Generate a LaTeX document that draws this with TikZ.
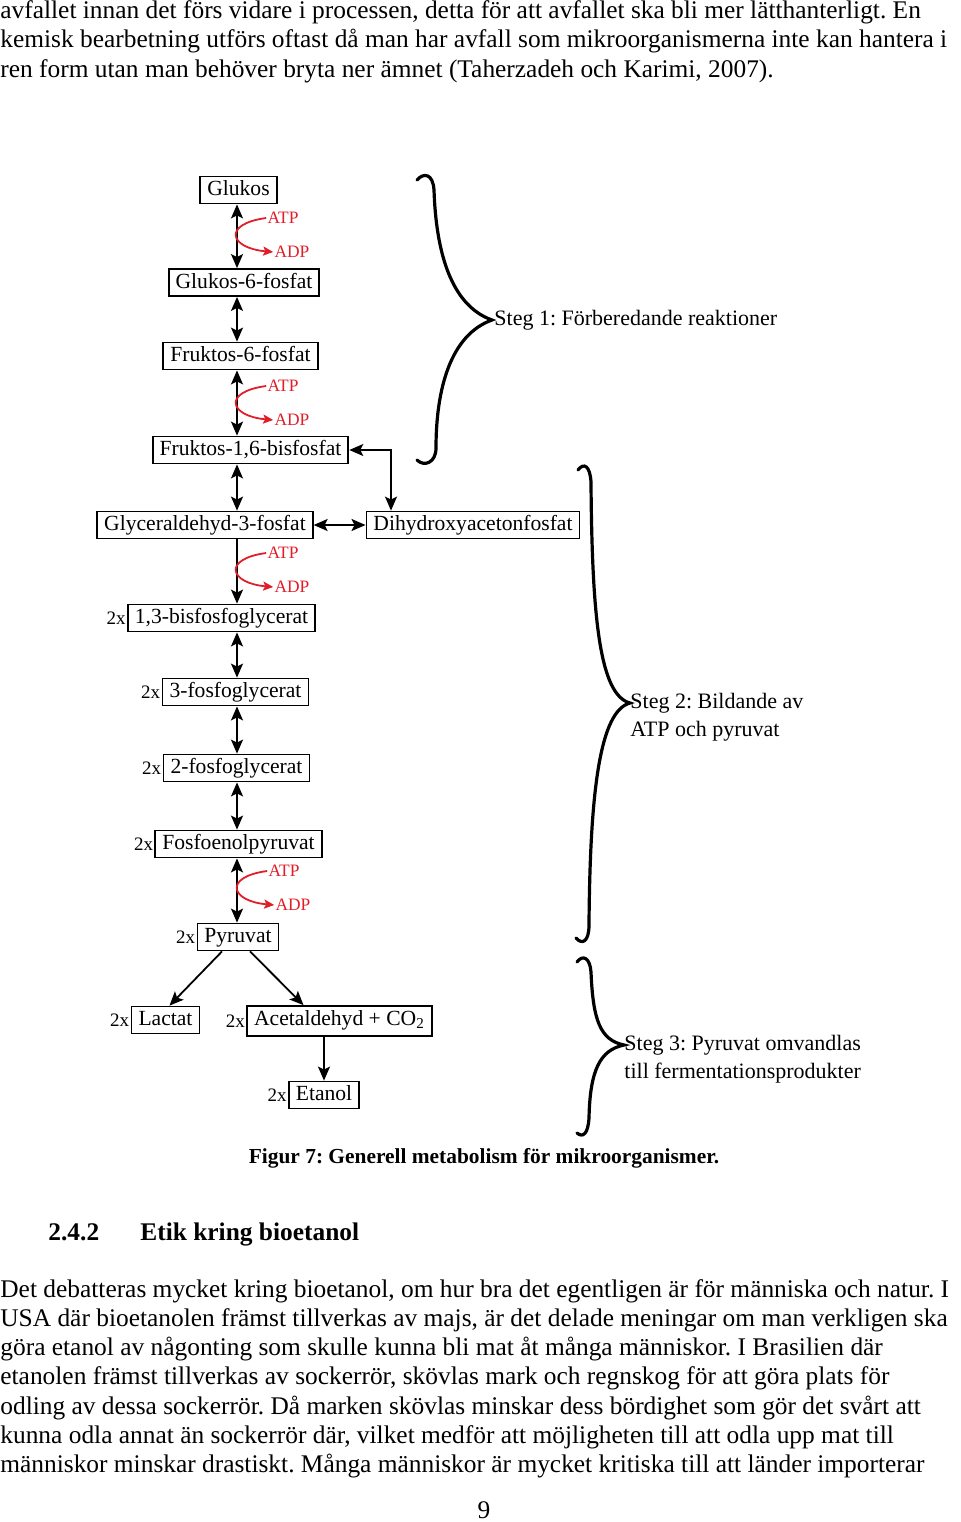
\documentclass[tikz,border=0pt]{standalone}
\usepackage{fontspec}
\setmainfont{Liberation Serif}
\usetikzlibrary{arrows.meta,positioning}
\definecolor{atpred}{RGB}{225,30,40}
\frenchspacing

\tikzset{
	box/.style={shape=rectangle,draw=black,line width=0.9pt,inner xsep=3.5pt,inner ysep=1.5pt,text height=8pt,text depth=2.5pt,font=\fontsize{10.8}{12}\selectfont},
	cnt/.style={inner sep=0.5pt,font=\fontsize{9.5}{11}\selectfont},
	atp/.style={inner sep=0.5pt,text=atpred,font=\fontsize{8.7}{10}\selectfont},
	dbl/.style={{Stealth[length=7pt,width=6pt,inset=1.5pt]}-{Stealth[length=7pt,width=6pt,inset=1.5pt]},line width=0.9pt},
	fwd/.style={-{Stealth[length=7pt,width=6pt,inset=1.5pt]},line width=0.9pt},
	redarr/.style={-{Stealth[length=5pt,width=4.5pt,inset=1pt]},line width=0.9pt,draw=atpred},
	brace/.style={line width=1.6pt,line cap=round},
	steg/.style={anchor=west,inner sep=0pt,align=left,font=\fontsize{11}{14}\selectfont},
	body/.style={anchor=base west,inner sep=0pt,font=\fontsize{12.7}{14.65}\selectfont}
}

\begin{document}
\begin{tikzpicture}[x=0.5pt,y=-0.5pt]

	\fill[white] (0,0) rectangle (960,1522);
	\useasboundingbox (0,0) rectangle (960,1522);

	% text above the figure
	\node[body] (top1) at (0,18.5) {avfallet innan det förs vidare i processen, detta för att avfallet ska bli mer lätthanterligt. En};
	\node[body] (top2) at (0,47.8) {kemisk bearbetning utförs oftast då man har avfall som mikroorganismerna inte kan hantera i};
	\node[body] (top3) at (0,77.1) {ren form utan man behöver bryta ner ämnet (Taherzadeh och Karimi, 2007).};

	% the boxes
	\node[box] (glukos) at (238.5,190)  {Glukos};
	\node[box] (g6p)    at (244,282.5)  {Glukos-6-fosfat};
	\node[box] (f6p)    at (240.5,356)  {Fruktos-6-fosfat};
	\node[box] (f16bp)  at (250.5,450)  {Fruktos-1,6-bisfosfat};
	\node[box] (g3p)    at (205,525)    {Glyceraldehyd-3-fosfat};
	\node[box] (dhap)   at (473,525)    {Dihydroxyacetonfosfat};
	\node[box] (bpg)    at (221.5,618)  {1,3-bisfosfoglycerat};
	\node[box] (pga3)   at (235.5,692)  {3-fosfoglycerat};
	\node[box] (pga2)   at (236.5,768)  {2-fosfoglycerat};
	\node[box] (pep)    at (238.5,844)  {Fosfoenolpyruvat};
	\node[box] (pyr)    at (238,937)    {Pyruvat};
	\node[box] (lactat) at (165.5,1020) {Lactat};
	\node[box,text depth=4pt] (acet) at (339.5,1021) {Acetaldehyd + CO\textsubscript{2}};
	\node[box] (etanol) at (324,1095)   {Etanol};

	\node[cnt,left=0pt of bpg]    (bpgn)    {2x};
	\node[cnt,left=0pt of pga3]   (pga3n)   {2x};
	\node[cnt,left=0pt of pga2]   (pga2n)   {2x};
	\node[cnt,left=0pt of pep]    (pepn)    {2x};
	\node[cnt,left=0pt of pyr]    (pyrn)    {2x};
	\node[cnt,left=0pt of lactat] (lactatn) {2x};
	\node[cnt,left=0pt of acet]   (acetn)   {2x};
	\node[cnt,left=0pt of etanol] (etanoln) {2x};

	\coordinate (col)  at (237,0);
	\coordinate (bend) at (391,450);

	% arrows
	\path[dbl] (glukos.south -| col) edge (g6p.north -| col);
	\path[dbl] (g6p.south -| col)    edge (f6p.north -| col);
	\path[dbl] (f6p.south -| col)    edge (f16bp.north -| col);
	\path[dbl] (f16bp.south -| col)  edge (g3p.north -| col);
	\path[dbl] (g3p.east)            edge (dhap.west);
	\draw[dbl] (f16bp.east) -- (bend) -- (bend |- dhap.north);
	\path[fwd] (g3p.south -| col)    edge (bpg.north -| col);
	\path[dbl] (bpg.south -| col)    edge (pga3.north -| col);
	\path[dbl] (pga3.south -| col)   edge (pga2.north -| col);
	\path[dbl] (pga2.south -| col)   edge (pep.north -| col);
	\path[dbl] (pep.south -| col)    edge (pyr.north -| col);
	\path[fwd] ([xshift=-8pt]pyr.south) edge ([xshift=2pt]lactat.north);
	\path[fwd] ([xshift=6pt]pyr.south)  edge ([xshift=-18pt]acet.north);
	\path[fwd] (acet.south -| etanol)   edge (etanol.north);

	% ATP / ADP
	\node[atp] (atp1) at (283,218) {ATP};
	\node[atp] (adp1) at (292,252) {ADP};
	\node[atp] (atp2) at (283,386) {ATP};
	\node[atp] (adp2) at (292,420) {ADP};
	\node[atp] (atp3) at (283,553) {ATP};
	\node[atp] (adp3) at (292,587) {ADP};
	\node[atp] (atp4) at (284,871) {ATP};
	\node[atp] (adp4) at (293,905) {ADP};

	\draw[redarr] (atp1.west) .. controls +(-44,6) and +(-44,-4) .. (adp1.west);
	\draw[redarr] (atp2.west) .. controls +(-44,6) and +(-44,-4) .. (adp2.west);
	\draw[redarr] (atp3.west) .. controls +(-44,6) and +(-44,-4) .. (adp3.west);
	\draw[redarr] (atp4.west) .. controls +(-44,6) and +(-44,-4) .. (adp4.west);

	% braces
	\node[steg] (steg1) at (494,320)  {Steg 1: Förberedande reaktioner};
	\node[steg] (steg2) at (630,717)  {Steg 2: Bildande av\\ATP och pyruvat};
	\node[steg] (steg3) at (624,1059) {Steg 3: Pyruvat omvandlas\\till fermentationsprodukter};

	\draw[brace] (417,180) .. controls (424,172) and (433,174) .. (434,190)
		.. controls (436,250) and (450,305) .. (492,320)
		.. controls (450,335) and (436,390) .. (436,448)
		.. controls (436,463) and (424,467) .. (417,460);
	\draw[brace] (578,470) .. controls (584,462) and (590,466) .. (591,482)
		.. controls (592,620) and (600,695) .. (630,703)
		.. controls (600,711) and (590,790) .. (589,925)
		.. controls (589,942) and (582,945) .. (576,938);
	\draw[brace] (577,962) .. controls (583,954) and (590,958) .. (591,972)
		.. controls (593,1020) and (600,1040) .. (624,1045)
		.. controls (600,1050) and (590,1070) .. (589,1118)
		.. controls (588,1134) and (583,1138) .. (577,1133);

	% caption, heading and text below
	\node[body,anchor=base,font=\fontsize{10.7}{13}\selectfont\bfseries] (caption) at (484,1163) {Figur 7: Generell metabolism för mikroorganismer.};
	\node[body,font=\fontsize{12.7}{14.65}\selectfont\bfseries] (secnum) at (48,1240) {2.4.2};
	\node[body,font=\fontsize{12.7}{14.65}\selectfont\bfseries] (sectitle) at (140,1240) {Etik kring bioetanol};

	\node[body] (par1) at (0,1297)   {Det debatteras mycket kring bioetanol, om hur bra det egentligen är för människa och natur. I};
	\node[body] (par2) at (0,1326.3) {USA där bioetanolen främst tillverkas av majs, är det delade meningar om man verkligen ska};
	\node[body] (par3) at (0,1355.6) {göra etanol av någonting som skulle kunna bli mat åt många människor. I Brasilien där};
	\node[body] (par4) at (0,1384.9) {etanolen främst tillverkas av sockerrör, skövlas mark och regnskog för att göra plats för};
	\node[body] (par5) at (0,1414.2) {odling av dessa sockerrör. Då marken skövlas minskar dess bördighet som gör det svårt att};
	\node[body] (par6) at (0,1443.5) {kunna odla annat än sockerrör där, vilket medför att möjligheten till att odla upp mat till};
	\node[body] (par7) at (0,1472.8) {människor minskar drastiskt. Många människor är mycket kritiska till att länder importerar};
	\node[body,anchor=base] (pagenum) at (484,1518) {9};

\end{tikzpicture}
\end{document}
